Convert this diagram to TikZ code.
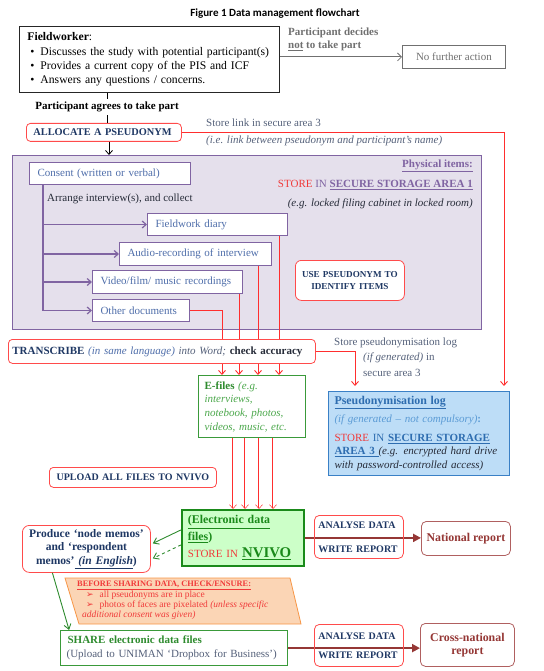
\documentclass[tikz,border=0pt]{standalone}
\usepackage{fontspec}
\setmainfont{Liberation Serif}[Scale=1.1]
\newfontfamily\titlefont{Carlito}
\newfontfamily\dingfont{DejaVu Sans}
\usetikzlibrary{arrows.meta,positioning}
\definecolor{boxred}{HTML}{FF4B4B}
\definecolor{linered}{HTML}{FF2E2E}
\definecolor{storered}{HTML}{F03A3A}
\definecolor{navy}{HTML}{1F3864}
\definecolor{darktxt}{HTML}{262B38}
\definecolor{slate}{HTML}{55617A}
\definecolor{greytxt}{HTML}{707070}
\definecolor{purp}{HTML}{8064A2}
\definecolor{lav}{HTML}{E5E0EC}
\definecolor{consblue}{HTML}{4F6EAA}
\definecolor{logfill}{HTML}{BDDDF7}
\definecolor{logline}{HTML}{3A80C6}
\definecolor{logblue}{HTML}{2E6DB0}
\definecolor{lightblue}{HTML}{5B9BD5}
\definecolor{efgreen}{HTML}{3A9A3A}
\definecolor{eftext}{HTML}{4CA84C}
\definecolor{efdark}{HTML}{2E8B2E}
\definecolor{nvline}{HTML}{1A8A1A}
\definecolor{nvfill}{HTML}{CCFFC8}
\definecolor{orfill}{HTML}{FBD5B5}
\definecolor{orline}{HTML}{F79646}
\definecolor{brick}{HTML}{953735}
\definecolor{reportline}{HTML}{B06060}
\newcommand{\bodysize}{\fontsize{10}{13}\selectfont}
\newcommand{\capsize}{\fontsize{9.1}{12}\selectfont}
\newcommand{\undl}[1]{\underline{#1}}

\begin{document}
\begin{tikzpicture}[x=1pt,y=-1pt,
    every node/.style={inner sep=0pt,font=\bodysize},
    redbox/.style={draw=boxred,line width=0.8pt,rounded corners=4pt,fill=white,anchor=north west,align=left,text=navy,font=\capsize\bfseries},
    itembox/.style={draw=purp,line width=1pt,fill=white,anchor=north west,align=left,text=consblue,inner xsep=8pt},
    purpline/.style={draw=purp,line width=1.2pt},
    purparrow/.style={purpline,-{Straight Barb[length=4pt,width=7pt]}},
    redline/.style={draw=linered,line width=0.9pt},
    redarrow/.style={redline,-{Straight Barb[length=4pt,width=7pt]}},
    efline/.style={draw=linered,line width=0.5pt,double=white,double distance=0.9pt,-{Straight Barb[length=4pt,width=7pt]}},
    grnarrow/.style={draw=efdark,line width=0.9pt,-{Straight Barb[length=5pt,width=7pt]}},
    brickarrow/.style={draw=brick,line width=2pt,-{Triangle[length=8pt,width=8pt]}},
    reportbox/.style={draw=reportline,line width=0.8pt,rounded corners=5pt,fill=white,anchor=north west,align=center,text=brick,font=\fontsize{10.8}{13.5}\selectfont\bfseries},
    analysebox/.style={draw=boxred,line width=0.8pt,rounded corners=5pt,anchor=north west,align=left,text=navy,inner xsep=4pt,font=\capsize\bfseries}
  ]
\useasboundingbox (0,0) rectangle (543,671);

\node[font=\titlefont\bfseries\fontsize{11}{13}\selectfont] (title) at (275,14) {Figure 1 Data management flowchart};

\node[draw=black!85,line width=0.8pt,anchor=north west,align=left,text width=248pt,minimum height=66pt,inner xsep=6pt,font=\fontsize{10.6}{14.3}\selectfont] (fw) at (19,26)
  {\hspace*{2pt}\textbf{Fieldworker}:\\
   \hspace*{5pt}\textbullet\hspace{6pt}Discusses the study with potential participant(s)\\
   \hspace*{5pt}\textbullet\hspace{6pt}Provides a current copy of the PIS and ICF\\
   \hspace*{5pt}\textbullet\hspace{6pt}Answers any questions / concerns.};
\node[anchor=north west,align=left,text=greytxt,font=\bodysize\bfseries] (decline) at (288,28) {Participant decides\\\undl{not} to take part};
\node[draw=greytxt,line width=0.8pt,anchor=north west,minimum width=103pt,minimum height=23pt,text=greytxt] (nfa) at (402,45) {No further action};
\draw[draw=greytxt,line width=0.8pt,-{Straight Barb[length=4pt,width=8pt]}] (fw.east |- nfa.west) -- (nfa.west);

\node[font=\bodysize\bfseries] (agree) at (107,107) {Participant agrees to take part};
\node[redbox,text width=141pt,minimum height=18pt,inner xsep=7pt,font=\fontsize{9.4}{12}\selectfont\bfseries] (alloc) at (26,123) {\mbox{ALLOCATE A PSEUDONYM}};
\draw[line width=0.6pt] (agree.north |- fw.south) -- ([yshift=3pt]agree.north);
\draw[line width=0.6pt] ([yshift=-3pt]agree.south) -- (agree.south |- alloc.north);
\node[anchor=west,text=slate] (linktxt) at (206,123) {Store link in secure area 3};
\node[anchor=west,text=slate,font=\bodysize\itshape] (linknote) at (206,141) {(i.e. link between pseudonym and participant's name)};

\node[draw=purp,fill=lav,line width=1pt,anchor=north west,minimum width=469pt,minimum height=174pt] (phys) at (12,155) {};
\draw[line width=0.8pt,-{Straight Barb[length=4pt,width=7pt]}] (alloc.south -| 109,0) -- (phys.north -| 109,0);

\node[itembox,text width=145pt,minimum height=22pt] (cons) at (29,162) {Consent (written or verbal)};
\node[anchor=west,text=darktxt] (arrange) at (47,199) {Arrange interview(s), and collect};
\node[itembox,text width=124pt,minimum height=22pt] (diary) at (147,213) {Fieldwork diary};
\node[itembox,text width=136pt,minimum height=23pt] (audio) at (119,242) {Audio-recording of interview};
\node[itembox,text width=134pt,minimum height=23pt] (video) at (92,270) {Video/film/ music recordings};
\node[itembox,text width=81pt,minimum height=22pt] (other) at (92,299) {Other documents};
\draw[purpline] (cons.south -| 43,0) -- (other.west -| 43,0);
\foreach \n in {diary,audio,video,other}
  \draw[purparrow] (\n.west -| 43,0) -- (\n.west);

\node[anchor=east,text=purp,font=\bodysize\bfseries] (physhead) at (473,166) {\undl{Physical items:}};
\node[anchor=east,text=purp] (physstore) at (473,185) {\textcolor{storered}{STORE} IN \textbf{\undl{SECURE STORAGE AREA 1}}};
\node[anchor=east,text=darktxt,font=\bodysize\itshape] (physeg) at (473,204) {(e.g. locked filing cabinet in locked room)};
\node[redbox,align=center,text width=109pt,minimum height=40pt,inner xsep=0pt,rounded corners=6pt,font=\fontsize{8.3}{12}\selectfont\bfseries] (usep) at (295,260) {USE PSEUDONYM TO\\IDENTIFY ITEMS};

\node[draw=efgreen,fill=white,line width=1.2pt,anchor=north west,align=left,text width=95pt,minimum height=62pt,inner xsep=6pt,text=eftext,font=\fontsize{10}{13.7}\selectfont\itshape] (ef) at (198,375)
  {\textcolor{efdark}{\upshape\textbf{E-files}} (e.g.\\interviews,\\notebook, photos,\\videos, music, etc.};
\node[draw=logline,fill=logfill,line width=1pt,anchor=north west,align=left,text width=169pt,minimum height=84pt,inner xsep=6pt,text=darktxt,font=\fontsize{10}{13.5}\selectfont] (log) at (328,391)
  {\textcolor{logblue}{\fontsize{10.8}{13.5}\selectfont\textbf{\undl{Pseudonymisation log}}}\\[5pt]
   \textcolor{lightblue}{\textit{(if generated -- not compulsory)}\textbf{:}}\\[5pt]
   \textcolor{storered}{STORE} \textcolor{logblue}{IN \textbf{\undl{SECURE STORAGE}}}\\
   \textcolor{logblue}{\textbf{\undl{AREA 3 }}}\textit{(e.g. encrypted hard drive}\\
   \textit{with password-controlled access)}};

\draw[redarrow] (other.east) -| (ef.north -| 222,0);
\draw[redarrow] (video.south -| 239,0) -- (ef.north -| 239,0);
\draw[redarrow] (audio.south -| 258,0) -- (ef.north -| 258,0);
\draw[redarrow] (diary.south -| 279,0) -- (ef.north -| 279,0);
\draw[redarrow,shorten >=5pt] (alloc.east) -| (log.north -| 504,0);

\node[redbox,text width=299pt,minimum height=24pt,inner xsep=4pt,font=\bodysize] (trans) at (8,339)
  {\textbf{TRANSCRIBE} \textcolor{consblue}{\textit{(in same language)}} \textcolor{slate}{\textit{into Word;}} \textcolor{darktxt}{\textbf{check accuracy}}};
\draw[redarrow,shorten >=5pt] (trans.east) -| (log.north -| 355,0);
\node[anchor=west,text=slate] (logtxt) at (334,343) {Store pseudonymisation log};
\node[anchor=west,text=slate] (logwhen) at (363,358) {\textit{(if generated)} in};
\node[anchor=west,text=slate] (logwhere) at (363,373) {secure area 3};

\node[redbox,align=center,text width=167pt,minimum height=20pt,inner xsep=0pt] (upload) at (49,467) {UPLOAD ALL FILES TO NVIVO};
\node[draw=nvline,fill=nvfill,line width=1.8pt,anchor=north west,align=left,text width=110pt,minimum height=56pt,inner xsep=6pt,text=nvline,font=\fontsize{10.8}{17}\selectfont] (nv) at (181,509)
  {\textbf{\undl{(Electronic data}}\\\textbf{\undl{files})}\\\textcolor{storered}{\bodysize STORE IN} \textbf{\fontsize{13.5}{17}\selectfont\undl{NVIVO}}};
\foreach \c in {233,245,259,273}
  \draw[efline] (ef.south -| \c,0) -- (nv.north -| \c,0);

\node[redbox,align=center,text width=128pt,minimum height=47pt,inner xsep=0pt,rounded corners=7pt,font=\fontsize{10.5}{13.5}\selectfont\bfseries] (memos) at (22,525)
  {Produce `node memos'\\and `respondent\\memos'\undl{ \textit{(in English}})};

\draw[draw=orline,fill=orfill,line width=0.8pt] (65,578) -- (290,578) -- (301,624) -- (79,624) -- cycle;
\node[anchor=north west,align=left,text=storered,font=\fontsize{8.6}{10.4}\selectfont] (check) at (77,581)
  {{\fontsize{7.6}{10.4}\selectfont\textbf{\undl{BEFORE SHARING DATA, CHECK/ENSURE:}}}\\
   \hspace*{9pt}{\dingfont\fontsize{9}{10}\selectfont ➢}\hspace{6pt}all pseudonyms are in place\\
   \hspace*{9pt}{\dingfont\fontsize{9}{10}\selectfont ➢}\hspace{6pt}photos of faces are pixelated \textit{(unless specific}\\
   \hspace*{5pt}\textit{additional consent was given)}};

\node[draw=efgreen,fill=white,line width=1.2pt,anchor=north west,align=left,text width=215pt,minimum height=35pt,inner xsep=6pt,font=\fontsize{10}{14}\selectfont] (share) at (60,630)
  {\hspace*{1pt}\textcolor{efdark}{\textbf{SHARE electronic data files}}\\\textcolor{slate}{(Upload to UNIMAN `Dropbox for Business')}};

\draw[grnarrow] ([yshift=8pt]nv.west) -- ([xshift=2pt,yshift=5.5pt]memos.east);
\draw[grnarrow,dashed] ([yshift=-7pt]nv.west) -- ([xshift=2pt,yshift=-9.5pt]memos.east);
\draw[grnarrow] ([xshift=-34pt]memos.south) -- ([xshift=-105pt]share.north);

\node[reportbox,minimum width=89pt,minimum height=34pt] (natl) at (421,521) {National report};
\node[reportbox,text width=94pt,minimum height=43pt] (cross) at (420,623) {Cross-national\\report};
\draw[brickarrow] (nv.east) -- (nv.east -| natl.west);
\draw[brickarrow] (share.east) -- (share.east -| cross.west);
\node[analysebox,text width=81pt,minimum height=43pt] (an1) at (314,515) {ANALYSE DATA\\[12pt]WRITE REPORT};
\node[analysebox,text width=81pt,minimum height=42pt] (an2) at (314,624) {ANALYSE DATA\\[7pt]WRITE REPORT};
\end{tikzpicture}
\end{document}
